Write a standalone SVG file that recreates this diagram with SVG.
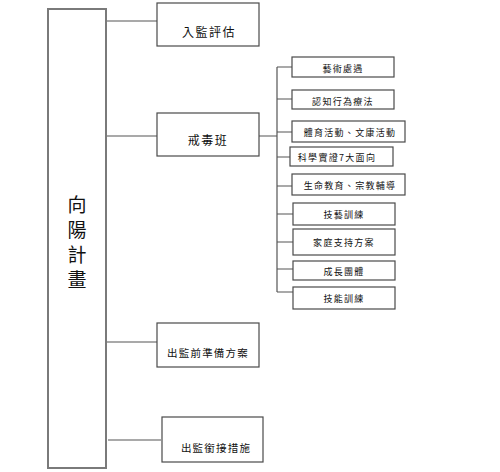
<svg xmlns="http://www.w3.org/2000/svg" width="500" height="472" viewBox="0 0 500 472">
<style>
.bx{fill:#fff;stroke:#4a4a4a;stroke-width:1.2}
.ln{fill:none;stroke:#555;stroke-width:1.2}
.t{font-family:"Noto Sans CJK TC","Noto Sans CJK SC",sans-serif;fill:#111;text-anchor:middle;dominant-baseline:central}
.m{font-size:12px;letter-spacing:1.5px}
.m2{font-size:10.5px;letter-spacing:1.2px}
.s{font-size:9px;letter-spacing:1.3px}
.big{font-size:19px}
</style>
<rect width="500" height="472" fill="#fff"/>
<g id="connectors">
<path class="ln" d="M106 21H157M106 136H157M106 342H157M108 440H161"/>
<path class="ln" d="M259 136H277M277 67V292"/>
<path class="ln" d="M277 67H292M277 99H292M277 132H292M277 157H290M277 186H292M277 214H293M277 242H293M277 269H293M277 292H293"/>
</g>
<g id="main">
<rect x="48" y="9" width="58" height="459" fill="#fff" stroke="#7a7a7a" stroke-width="2"/>
<text class="t big" x="77" y="203">向</text>
<text class="t big" x="77" y="228">陽</text>
<text class="t big" x="77" y="253">計</text>
<text class="t big" x="77" y="278">畫</text>
</g>
<g id="n1"><rect class="bx" x="157" y="3" width="102" height="43"/><text class="t m" x="209" y="31">入監評估</text></g>
<g id="n2"><rect class="bx" x="157" y="113" width="102" height="43"/><text class="t m" x="208" y="139">戒毒班</text></g>
<g id="n3"><rect class="bx" x="157" y="323" width="102" height="44"/><text class="t m2" x="208" y="352">出監前準備方案</text></g>
<g id="n4"><rect class="bx" x="162" y="417" width="101" height="45"/><text class="t m2" x="216" y="447">出監銜接措施</text></g>
<g id="s1"><rect class="bx" x="292" y="57" width="102" height="20"/><text class="t s" x="343" y="68">藝術處遇</text></g>
<g id="s2"><rect class="bx" x="292" y="90" width="102" height="19"/><text class="t s" x="343" y="101">認知行為療法</text></g>
<g id="s3"><rect class="bx" x="292" y="121" width="113" height="21"/><text class="t s" x="350" y="132">體育活動、文康活動</text></g>
<g id="s4"><rect class="bx" x="290" y="147" width="103" height="19"/><text class="t s" x="337" y="157">科學實證7大面向</text></g>
<g id="s5"><rect class="bx" x="292" y="174" width="113" height="21"/><text class="t s" x="350" y="185">生命教育、宗教輔導</text></g>
<g id="s6"><rect class="bx" x="293" y="203" width="102" height="22"/><text class="t s" x="344" y="214">技藝訓練</text></g>
<g id="s7"><rect class="bx" x="293" y="229" width="102" height="26"/><text class="t s" x="344" y="242">家庭支持方案</text></g>
<g id="s8"><rect class="bx" x="293" y="261" width="102" height="19"/><text class="t s" x="344" y="271">成長團體</text></g>
<g id="s9"><rect class="bx" x="293" y="287" width="102" height="22"/><text class="t s" x="344" y="298">技能訓練</text></g>
</svg>
